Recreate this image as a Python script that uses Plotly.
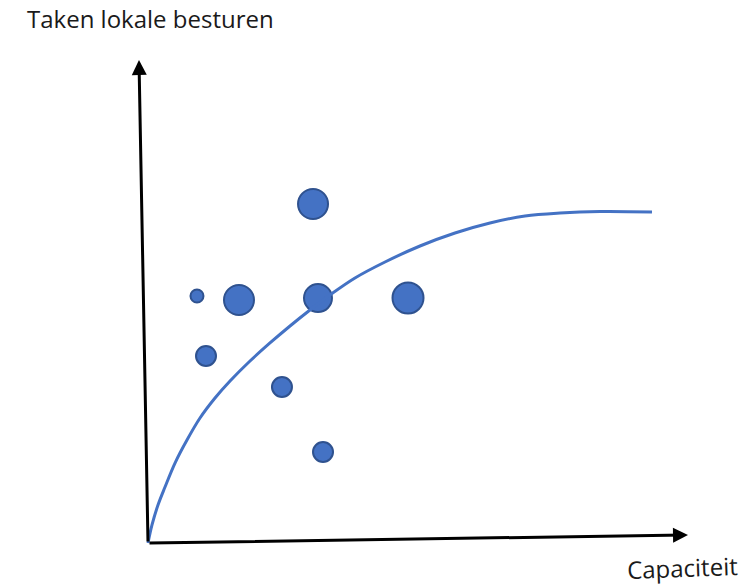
import plotly.graph_objects as go

# ---- data (conceptual units: axis tips at 100) ----
bubble_x = [9.07, 16.85, 31.48, 48.15, 30.56, 10.74, 24.81, 32.41]
bubble_y = [51.14, 50.31, 50.72, 50.72, 70.19, 38.72, 32.30, 18.84]
bubble_size = [13, 30, 28, 31, 30, 20, 20, 20]

curve_x = [0, 0.74, 1.85, 3.15, 5.00, 7.22, 9.63, 12.41, 15.19, 18.89, 22.59,
           26.30, 30.00, 33.70, 38.33, 43.89, 50.37, 56.85, 63.33, 69.81, 76.30,
           83.70, 93.33]
curve_y = [0, 3.73, 7.87, 11.59, 16.56, 21.33, 25.88, 30.02, 33.54, 37.68, 41.41,
           44.93, 48.24, 51.35, 54.87, 58.18, 61.49, 64.18, 66.25, 67.70, 68.32,
           68.63, 68.53]

y_axis_tip = (-1.67, 100.0)
x_axis_tip = (100.0, 1.66)

y_label = "Taken lokale besturen"
x_label = "Capaciteit"

W, H = 756, 585
ORIGIN_PX = (148, 543)
SX, SY = 5.4, 4.83  # px per unit

x_range = [-ORIGIN_PX[0] / SX, (W - ORIGIN_PX[0]) / SX]
y_range = [-(H - ORIGIN_PX[1]) / SY, ORIGIN_PX[1] / SY]

BLUE = "#4472C4"
DARK = "#2F528F"

fig = go.Figure()

fig.add_trace(go.Scatter(
    x=bubble_x, y=bubble_y, mode="markers",
    marker=dict(size=bubble_size, color=BLUE, opacity=1, line=dict(color=DARK, width=2)),
    hoverinfo="skip", showlegend=False,
))

fig.add_trace(go.Scatter(
    x=curve_x, y=curve_y, mode="lines",
    line=dict(color=BLUE, width=3, shape="spline", smoothing=1),
    hoverinfo="skip", showlegend=False,
))

for tip in (y_axis_tip, x_axis_tip):
    fig.add_annotation(
        x=tip[0], y=tip[1], ax=0, ay=0, xref="x", yref="y", axref="x", ayref="y",
        text="", showarrow=True, arrowhead=2, arrowsize=1, arrowwidth=3,
        arrowcolor="black", standoff=0, startstandoff=0,
    )

fig.add_annotation(
    x=25 / W, y=1 - 19 / H, xref="paper", yref="paper", xanchor="left", yanchor="middle",
    text=y_label, showarrow=False,
    font=dict(family="Open Sans", size=24, color="#1a1a1a"),
)
fig.add_annotation(
    x=682 / W, y=1 - 567 / H, xref="paper", yref="paper", xanchor="center", yanchor="middle",
    text=x_label, showarrow=False, textangle=-2, borderpad=0,
    font=dict(family="Open Sans", size=24, color="#1a1a1a"),
)

fig.update_layout(
    width=W, height=H, margin=dict(l=0, r=0, t=0, b=0),
    paper_bgcolor="white", plot_bgcolor="white",
    xaxis=dict(range=x_range, visible=False, fixedrange=True),
    yaxis=dict(range=y_range, visible=False, fixedrange=True),
    showlegend=False,
)

fig.write_html("out.html", post_script="document.body.style.margin='0';",
               config={"displayModeBar": False})
